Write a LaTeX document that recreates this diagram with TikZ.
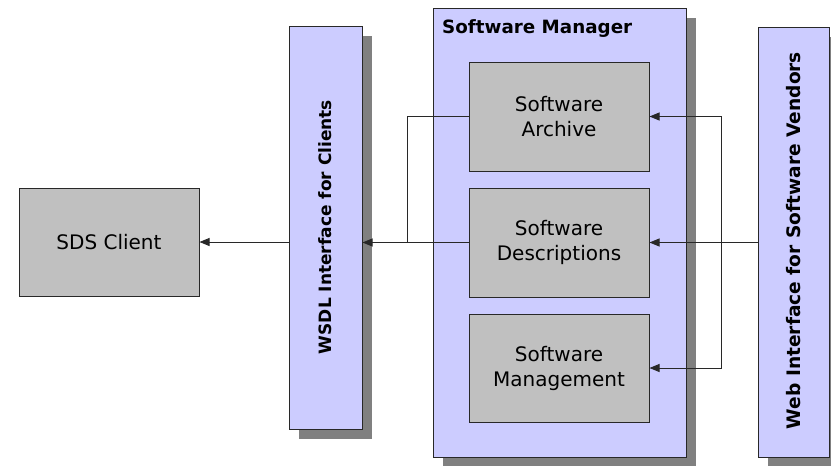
\documentclass[tikz,border=0pt]{standalone}
\usepackage{fontspec}
\setmainfont{DejaVu Sans}
\usetikzlibrary{arrows.meta,shadows,calc}
\definecolor{lav}{RGB}{204,204,255}
\definecolor{boxgray}{RGB}{192,192,192}
\definecolor{shade}{RGB}{128,128,128}
\definecolor{edge}{RGB}{40,40,40}
\tikzset{
  panel/.style={draw=edge, line width=1pt, fill=lav, inner sep=0pt,
    drop shadow={fill=shade, opacity=1, shadow xshift=10pt, shadow yshift=-10pt}},
  graybox/.style={draw=edge, line width=1pt, fill=boxgray, inner sep=0pt, align=center,
    minimum width=180pt, font=\fontsize{20}{25}\selectfont},
  vtext/.style={rotate=90, font=\bfseries\fontsize{17}{20}\selectfont},
  conn/.style={draw=edge, line width=0.9pt},
  arr/.style={conn, -{Triangle[length=10pt,width=8pt]}}
}
\begin{document}
\begin{tikzpicture}[x=1pt,y=-1pt]
\useasboundingbox (0,0) rectangle (831,466);
\node[graybox, minimum height=108pt] (sds) at (109,242) {SDS Client};
\node[panel, minimum width=73pt, minimum height=403pt] (wsdl) at (325.5,227.5) {};
\node[vtext] (wsdlt) at (325.5,227) {WSDL Interface for Clients};
\node[panel, minimum width=253pt, minimum height=449pt] (mgr) at (559.5,232.5) {};
\node[anchor=base west, inner sep=0pt, font=\bfseries\fontsize{18.3}{22}\selectfont] (mgrt) at (442,33) {Software Manager};
\node[graybox, minimum height=109pt] (arch) at (559,116.5) {Software\\Archive};
\node[graybox, minimum height=109pt] (desc) at (559,242.5) {Software\\Descriptions};
\node[graybox, minimum height=108pt] (mgmt) at (559,368) {Software\\Management};
\node[panel, minimum width=71pt, minimum height=430pt] (web) at (793.5,242) {};
\node[vtext, font=\bfseries\fontsize{18.6}{22}\selectfont] (webt) at (793.5,240.5) {Web Interface for Software Vendors};
\coordinate (jl) at (407,242.5);
\coordinate (jr) at (721,242.5);
% left side
\draw[conn] (arch.west) -| (jl);
\draw[conn] (desc.west) -- (jl);
\draw[arr] (jl) -- (jl -| wsdl.east);
\draw[arr] (sds.east -| wsdl.west) -- (sds.east);
% right side
\draw[arr] (web.west |- desc.east) -- (desc.east);
\draw[arr] (jr) |- (arch.east);
\draw[arr] (jr) |- (mgmt.east);
\end{tikzpicture}
\end{document}
